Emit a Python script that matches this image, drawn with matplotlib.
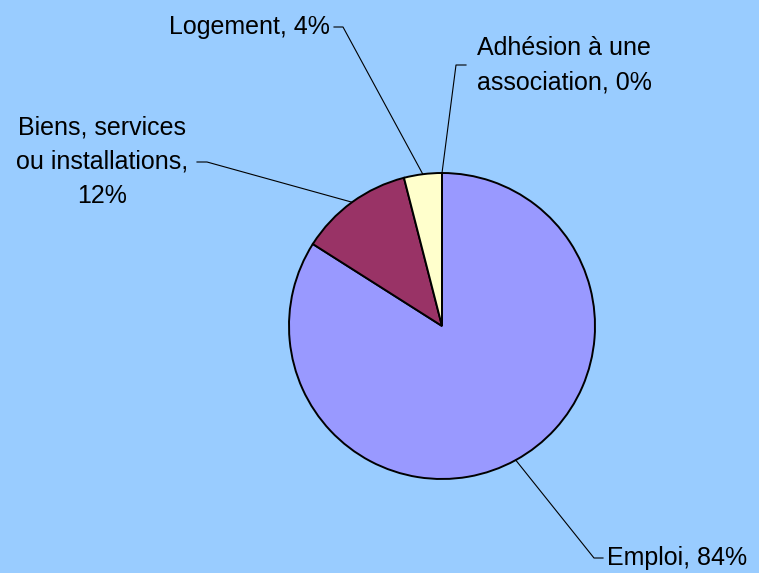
from matplotlib import pyplot as plt
import numpy as np

labels = ["Emploi", "Biens, services\nou installations", "Logement", "Adhésion à une\nassociation"]
values = [84, 12, 4, 0]
colors = ["#9999FF", "#993366", "#FFFFCC", "#FFFFFF"]

# label layout in pixels (x, y from top): elbow, text anchor
elbows = [(594, 558), (207, 162), (343, 27), (456, 65)]
ends = [(603, 558), (197, 162), (334, 27), (466, 65)]
aligns = ["left", "right", "right", "left"]

W, H = 759, 573
bg = "#99CCFF"
plt.rcParams['font.family'] = ['Liberation Sans', 'DejaVu Sans']

fig = plt.figure(figsize=(W / 100, H / 100), dpi=100, facecolor=bg)
ax = fig.add_axes([0, 0, 1, 1])
ax.set_facecolor(bg)

cx, cy, r = 442, H - 326, 153
wedges, _ = ax.pie(values, colors=colors, startangle=90, counterclock=False,
                   center=(cx, cy), radius=r, frame=True,
                   wedgeprops=dict(edgecolor="black", linewidth=1.4))
ax.set_xlim(0, W)
ax.set_ylim(0, H)
ax.set_aspect('equal')
ax.axis('off')

total = sum(values)
for w, lab, v, el, en, al in zip(wedges, labels, values, elbows, ends, aligns):
    mid = np.deg2rad((w.theta1 + w.theta2) / 2)
    px, py = cx + r * np.cos(mid), cy + r * np.sin(mid)
    ax.plot([px, el[0], en[0]], [py, H - el[1], H - en[1]], color="black", lw=0.8)
    txt = "{}, {:.0f}%".format(lab, 100 * v / total)
    if al == "left":
        tx = en[0] + 4
    else:
        tx = en[0] - 4
    ha = al
    if "\n" in lab and al == "left":
        tx = 564
        ha = "center"
    if "\n" in lab and al == "right":
        tx = 102
        ha = "center"
        txt = "{},\n{:.0f}%".format(lab, 100 * v / total)
    ax.text(tx, H - en[1], txt, ha=ha, va="center", multialignment="center",
            fontsize=18, linespacing=1.55)

plt.savefig("out.png", dpi=100, facecolor=bg)
